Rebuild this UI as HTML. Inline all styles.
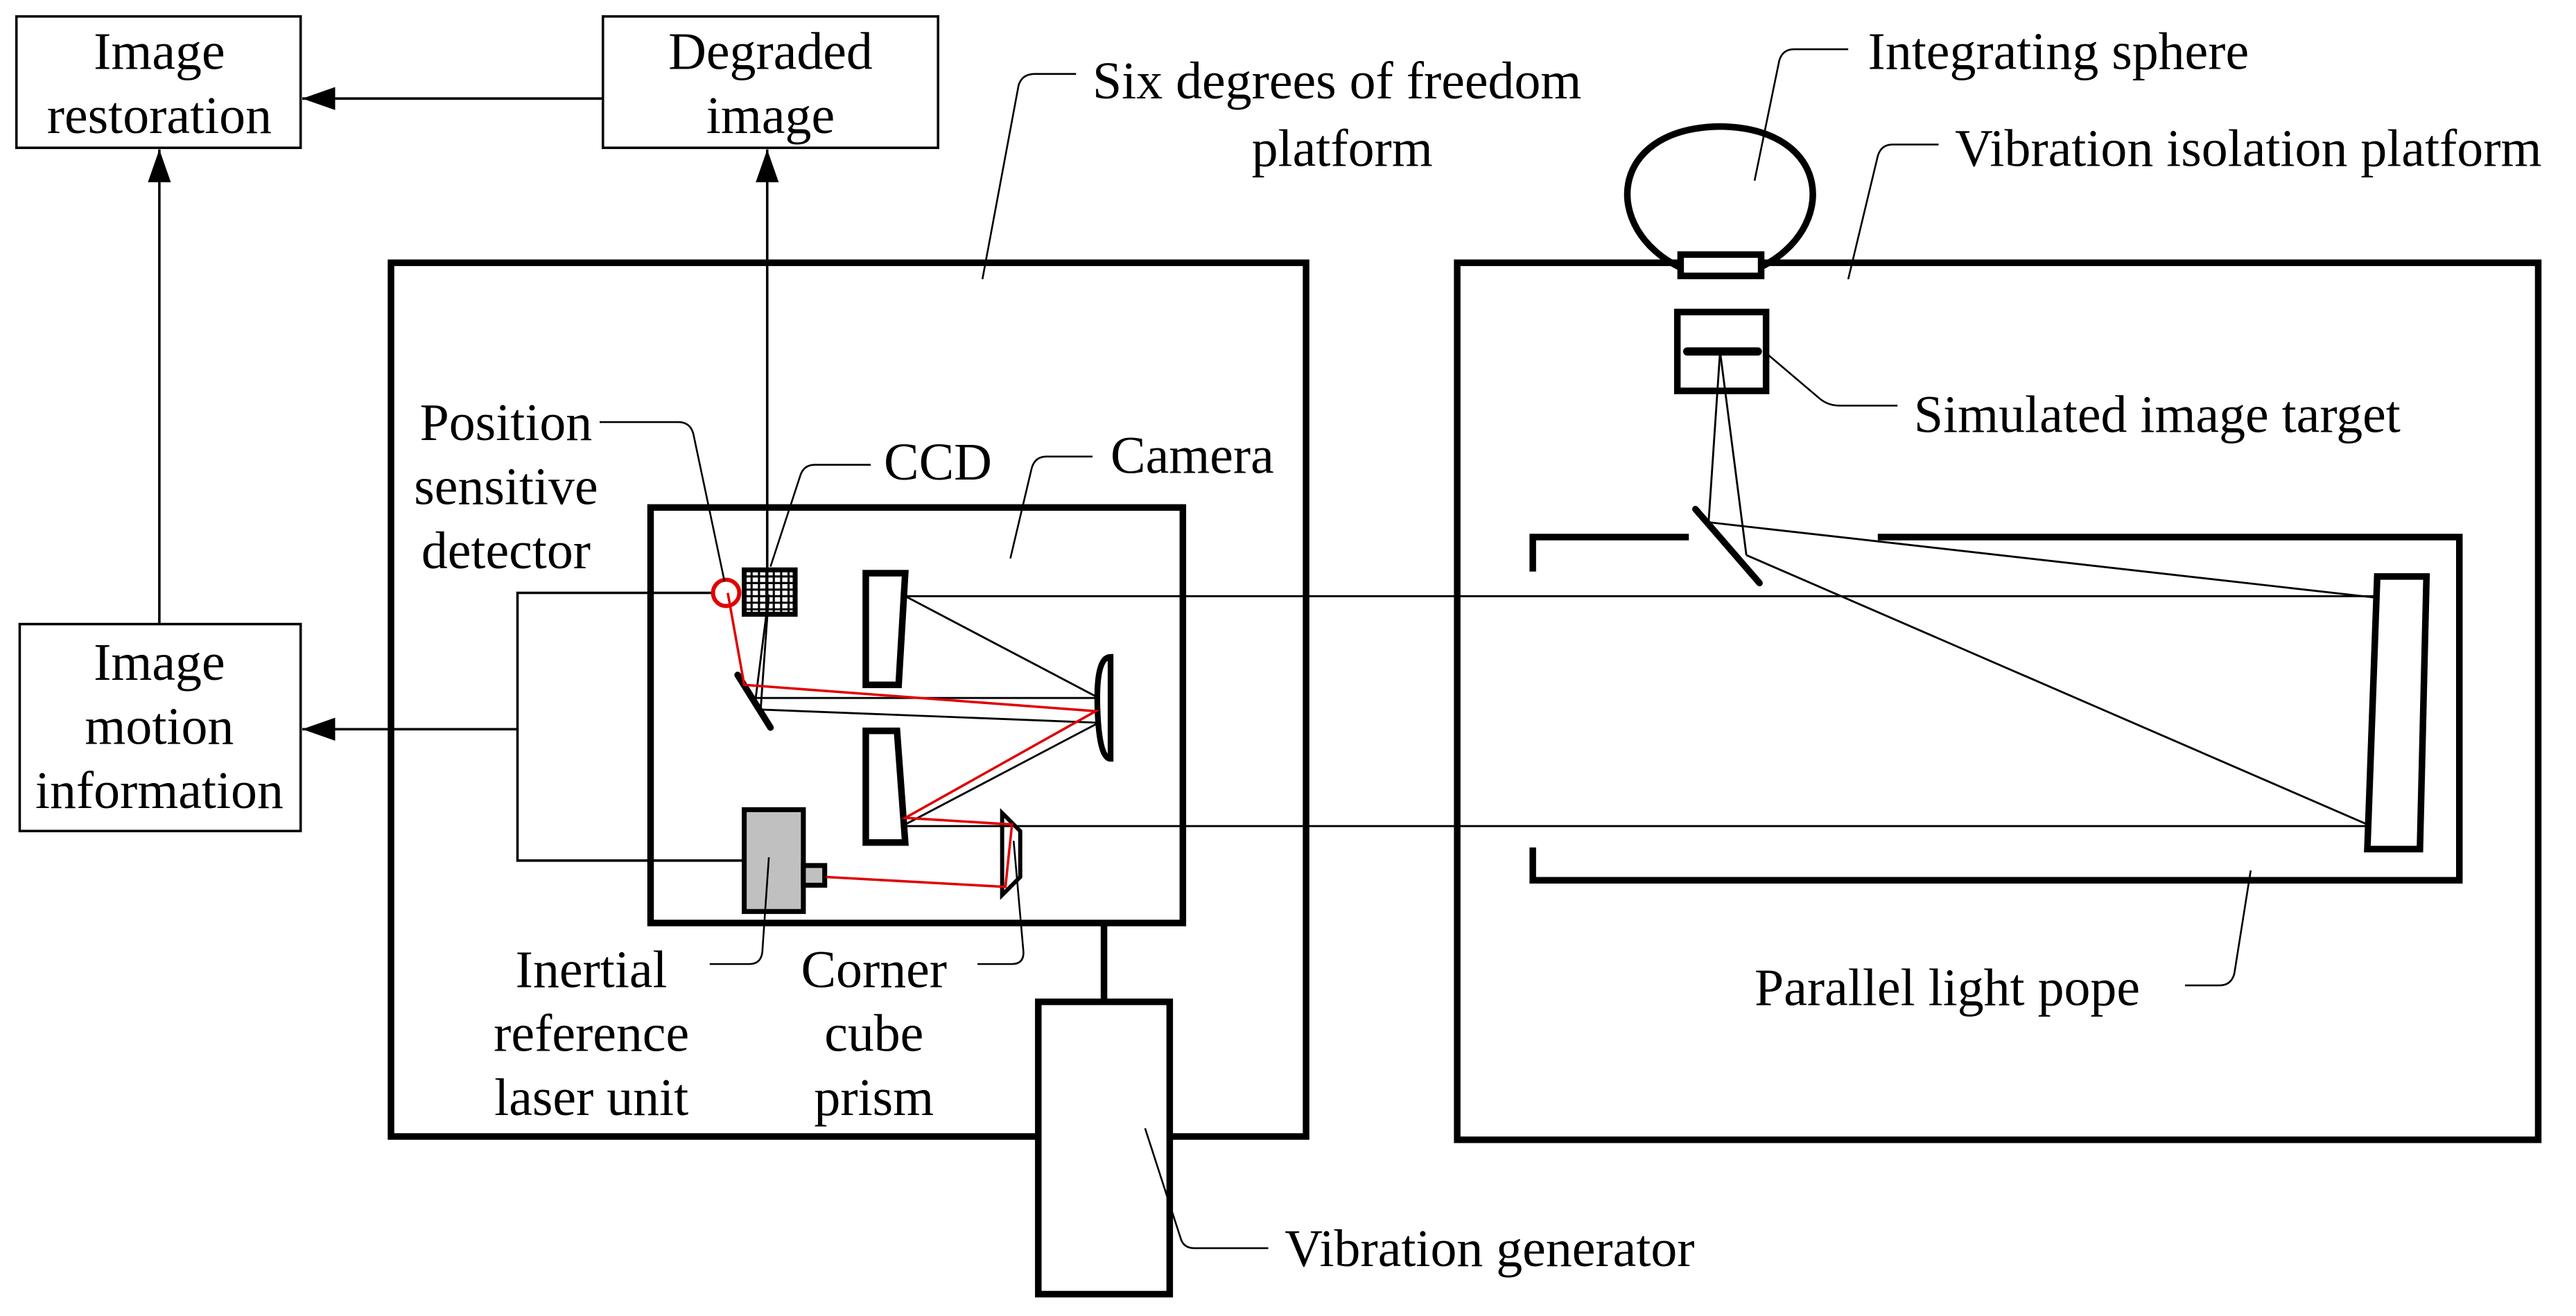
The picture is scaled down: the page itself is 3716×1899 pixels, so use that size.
<!DOCTYPE html>
<html><head><meta charset="utf-8"><style>
html,body{margin:0;padding:0;background:#fff;}
svg{display:block;}
svg text{font-family:"Liberation Serif","Times New Roman","DejaVu Serif",serif;font-size:32px;fill:#000;}
</style></head><body>
<svg width="3716" height="1899" viewBox="0 0 1568 801.3" xmlns="http://www.w3.org/2000/svg" font-family="Liberation Serif, Times New Roman, serif">
<defs><marker id="ah2" markerWidth="20" markerHeight="14" refX="20" refY="7" orient="auto" markerUnits="userSpaceOnUse"><path d="M0,0 L20,7 L0,14 Z" fill="#000"/></marker></defs>
<rect width="1568" height="801.3" fill="#fff"/>
<g fill="none" stroke="#000" stroke-width="1.5">
<rect x="10" y="10" width="173" height="80"/>
<rect x="367" y="10" width="204" height="80"/>
<rect x="12" y="380" width="171" height="126"/>
<line x1="367" y1="60" x2="184" y2="60" marker-end="url(#ah2)"/>
<line x1="97" y1="380" x2="97" y2="91" marker-end="url(#ah2)"/>
<line x1="315" y1="444" x2="184" y2="444" marker-end="url(#ah2)"/>
<line x1="467" y1="362" x2="467" y2="91" marker-end="url(#ah2)"/>
<polyline points="435,361 315,361 315,524 453,524"/>
</g>
<g fill="none" stroke="#000" stroke-width="4">
<rect x="238" y="160" width="557" height="532"/>
<rect x="887" y="160" width="658" height="534"/>
<rect x="396" y="309" width="324" height="253"/>
<line x1="672" y1="562" x2="672" y2="610"/>
<rect x="632" y="610" width="80" height="178" fill="#fff"/>
<path d="M1023,163 C975,140 978,78 1047,77 C1116,78 1119,140 1071,163"/>
<rect x="1023" y="155" width="49" height="13" fill="#fff"/>
<rect x="1021" y="190" width="54" height="48"/>
<line x1="1027" y1="214" x2="1070" y2="214" stroke-width="5" stroke-linecap="round"/>
<line x1="1032" y1="310" x2="1071" y2="355" stroke-linecap="round"/>
<polyline points="933,348 933,327 1028,327"/>
<polyline points="1143,327 1497,327 1497,536 933,536 933,516"/>
<polygon points="1447,351 1477,351 1473,517 1441,517"/>
<polygon points="527,349 551,349 547,417 527,417"/>
<polygon points="527,445 546,445 551,513 527,513"/>
<line x1="449" y1="411" x2="469" y2="443" stroke-linecap="round"/>
<path d="M676,400 Q667,400 668,431 Q669,462 676,462 Z" stroke-width="3.5"/>
<polygon points="610,495 621,506 621,534 610,545" stroke-width="2.5"/>
<rect x="453" y="493" width="36" height="62" fill="#c0c0c0" stroke-width="3"/>
<rect x="489" y="527" width="13" height="12" fill="#c0c0c0" stroke-width="3"/>
<rect x="453" y="347" width="31" height="27" stroke-width="3"/>
</g>
<g stroke="#000" stroke-width="1.3">
<line x1="457.5" y1="347" x2="457.5" y2="374"/><line x1="462" y1="347" x2="462" y2="374"/><line x1="466.5" y1="347" x2="466.5" y2="374"/><line x1="471" y1="347" x2="471" y2="374"/><line x1="475.5" y1="347" x2="475.5" y2="374"/><line x1="480" y1="347" x2="480" y2="374"/>
<line x1="453" y1="351" x2="484" y2="351"/><line x1="453" y1="355" x2="484" y2="355"/><line x1="453" y1="359" x2="484" y2="359"/><line x1="453" y1="363" x2="484" y2="363"/><line x1="453" y1="367" x2="484" y2="367"/><line x1="453" y1="371" x2="484" y2="371"/>
</g>
<g fill="none" stroke="#000" stroke-width="1.2">
<line x1="551" y1="363" x2="1447" y2="363"/>
<line x1="551" y1="363" x2="667" y2="424"/>
<line x1="667" y1="425" x2="460" y2="425"/>
<line x1="462" y1="432" x2="667" y2="440"/>
<line x1="667" y1="441" x2="551" y2="502"/>
<line x1="551" y1="503" x2="1441" y2="503"/>
<line x1="460" y1="425" x2="468" y2="362"/>
<line x1="463" y1="432" x2="468" y2="362"/>
<line x1="1047" y1="214" x2="1040" y2="318"/>
<line x1="1047" y1="214" x2="1063" y2="338"/>
<line x1="1040" y1="318" x2="1447" y2="364"/>
<line x1="1063" y1="338" x2="1441" y2="502"/>
</g>
<g fill="none" stroke="#e00000" stroke-width="1.5">
<circle cx="442" cy="361" r="8" stroke-width="2.5"/>
<polyline points="443,361 453,417 667,433 551,498 616,502 612,540 503,534"/>
</g>
<g fill="none" stroke="#000" stroke-width="1.1">
<path d="M598,170 L620,52 Q622,45 630,45 L655,45"/>
<path d="M1068,110 L1083,37 Q1085,30 1092,30 L1125,30"/>
<path d="M1125,170 L1143,95 Q1145,88 1152,88 L1180,88"/>
<path d="M1075,215 L1108,243 Q1113,247 1120,247 L1155,247"/>
<path d="M441,354 L422,264 Q420,257 413,257 L365,257"/>
<path d="M469,345 L487,290 Q489,283 496,283 L530,283"/>
<path d="M615,340 L628,285 Q630,278 637,278 L665,278"/>
<path d="M468,522 L464,580 Q463,587 456,587 L432,587"/>
<path d="M617,512 L623,580 Q623,587 616,587 L595,587"/>
<path d="M697,687 L719,755 Q721,760 727,760 L772,760"/>
<path d="M1370,530 L1360,593 Q1358,600 1351,600 L1330,600"/>
</g>
<g text-anchor="middle">
<text x="97" y="42">Image</text>
<text x="97" y="81">restoration</text>
<text x="469" y="42">Degraded</text>
<text x="469" y="81">image</text>
<text x="97" y="414">Image</text>
<text x="97" y="453">motion</text>
<text x="97" y="492">information</text>
<text x="308" y="268">Position</text>
<text x="308" y="307">sensitive</text>
<text x="308" y="346">detector</text>
<text x="360" y="601">Inertial</text>
<text x="360" y="640">reference</text>
<text x="360" y="679">laser unit</text>
<text x="532" y="601">Corner</text>
<text x="532" y="640">cube</text>
<text x="532" y="679">prism</text>
<text x="817" y="101">platform</text>
</g>
<text x="665" y="60">Six degrees of freedom</text>
<text x="1137" y="42">Integrating sphere</text>
<text x="1190" y="101">Vibration isolation platform</text>
<text x="1165" y="263">Simulated image target</text>
<text x="538" y="292">CCD</text>
<text x="676" y="288">Camera</text>
<text x="782" y="771">Vibration generator</text>
<text x="1068" y="612">Parallel light pope</text>
</svg>
</body></html>
